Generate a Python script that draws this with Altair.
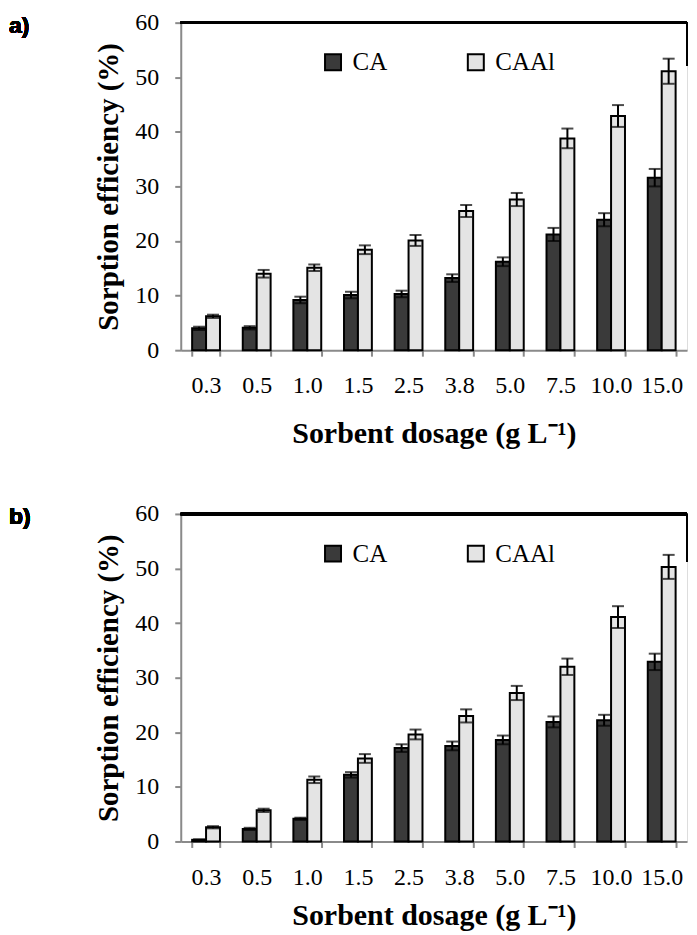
import altair as alt
import pandas as pd

dosages = ["0.3", "0.5", "1.0", "1.5", "2.5", "3.8", "5.0", "7.5", "10.0", "15.0"]
series = ["CA", "CAAl"]

a_ca = [4.0, 4.1, 9.2, 10.1, 10.3, 13.2, 16.2, 21.2, 23.9, 31.6]
a_ca_err = [0.3, 0.3, 0.6, 0.6, 0.6, 0.7, 0.8, 1.2, 1.2, 1.6]
a_caal = [6.2, 14.0, 15.1, 18.4, 20.1, 25.5, 27.6, 38.8, 42.9, 51.1]
a_caal_err = [0.3, 0.7, 0.6, 0.8, 1.0, 1.1, 1.2, 1.8, 2.0, 2.3]

b_ca = [0.3, 2.3, 4.15, 12.2, 17.1, 17.5, 18.6, 21.9, 22.2, 32.9]
b_ca_err = [0.1, 0.2, 0.2, 0.5, 0.7, 0.8, 0.8, 1.0, 1.0, 1.5]
b_caal = [2.6, 5.7, 11.3, 15.2, 19.6, 23.0, 27.2, 32.0, 41.1, 50.3]
b_caal_err = [0.2, 0.3, 0.6, 0.8, 0.9, 1.2, 1.3, 1.5, 2.0, 2.2]

y_ticks = [0, 10, 20, 30, 40, 50, 60]

SERIF = "Liberation Serif"
GRAY = "#8a8a8a"
W = 507
H = 328


def make_df(ca, ca_err, caal, caal_err):
    rows = []
    for i, d in enumerate(dosages):
        for s, v, e in (("CA", ca[i], ca_err[i]), ("CAAl", caal[i], caal_err[i])):
            rows.append({"dosage": d, "series": s, "value": v, "lo": v - e, "hi": v + e})
    return pd.DataFrame(rows)


def panel(df, label, xlabel_pad, xtitle_pad, right_end):
    xenc = alt.X(
        "dosage:N", sort=dosages,
        scale=alt.Scale(paddingInner=0.45, paddingOuter=0.225),
        axis=alt.Axis(
            title="Sorbent dosage (g L⁻¹)", labelAngle=0, tickBand="extent",
            domainColor=GRAY, domainWidth=2, tickColor=GRAY, tickWidth=2, tickSize=6,
            labelFont=SERIF, labelFontSize=24, labelColor="black", labelPadding=xlabel_pad,
            titleFont=SERIF, titleFontSize=30, titleFontWeight="bold", titleColor="black",
            titlePadding=xtitle_pad,
        ),
    )
    yscale = alt.Scale(domain=[0, 60], nice=False)
    yaxis = alt.Axis(
        title="Sorption efficiency (%)", values=y_ticks, grid=False,
        domainColor=GRAY, domainWidth=2, tickColor=GRAY, tickWidth=2, tickSize=6,
        labelFont=SERIF, labelFontSize=24, labelColor="black", labelPadding=16,
        titleFont=SERIF, titleFontSize=29, titleFontWeight="bold", titleColor="black",
        titlePadding=11,
    )
    xoff = alt.XOffset("series:N", sort=series, scale=alt.Scale(paddingInner=0, paddingOuter=0))
    base = alt.Chart(df).encode(x=xenc, xOffset=xoff)
    bars = base.mark_bar(stroke="black", strokeWidth=2).encode(
        y=alt.Y("value:Q", scale=yscale, axis=yaxis),
        fill=alt.Fill(
            "series:N", sort=series,
            scale=alt.Scale(domain=series, range=["#3a3a3a", "#e4e4e4"]),
            legend=alt.Legend(
                title=None, orient="none", legendX=140, legendY=27, direction="horizontal",
                symbolType="square", symbolSize=256, symbolStrokeColor="black",
                symbolStrokeWidth=2, labelFont=SERIF, labelFontSize=25, labelColor="black",
                columnPadding=76, labelOffset=7,
            ),
        ),
    )
    rules = base.mark_rule(color="black", strokeWidth=2).encode(y="lo:Q", y2="hi:Q")
    cap_hi = base.mark_tick(color="black", thickness=2, size=12).encode(y="hi:Q")
    cap_lo = base.mark_tick(color="black", thickness=2, size=12).encode(y="lo:Q")
    top = alt.Chart(df).mark_rule(color="black", strokeWidth=2.5).encode(
        y=alt.datum(60, scale=yscale), x=alt.value(0), x2=alt.value(W)
    )
    right = alt.Chart(df).mark_rule(color="black", strokeWidth=2).encode(
        x=alt.value(W), y=alt.datum(60, scale=yscale), y2=alt.datum(right_end)
    )
    lab = alt.Chart(df).mark_text(
        text=label, font="Liberation Sans Narrow, Liberation Sans", fontSize=23, fontWeight="bold",
        align="left", baseline="middle", color="black",
    ).encode(x=alt.value(-172), y=alt.value(3))
    return alt.layer(bars, rules, cap_hi, cap_lo, top, right, lab).properties(
        width=W, height=H
    )


pa = panel(make_df(a_ca, a_ca_err, a_caal, a_caal_err), "a)", 17, 21, 52.1)
pb = panel(make_df(b_ca, b_ca_err, b_caal, b_caal_err), "b)", 18, 11, 51.2)

chart = alt.vconcat(pa, pb, spacing=52).resolve_scale(fill="independent").configure_view(
    stroke=None
).configure(padding={"left": 0, "top": 1, "right": 0, "bottom": 0})

chart.save("out.html", embed_options={"renderer": "svg", "actions": False})
